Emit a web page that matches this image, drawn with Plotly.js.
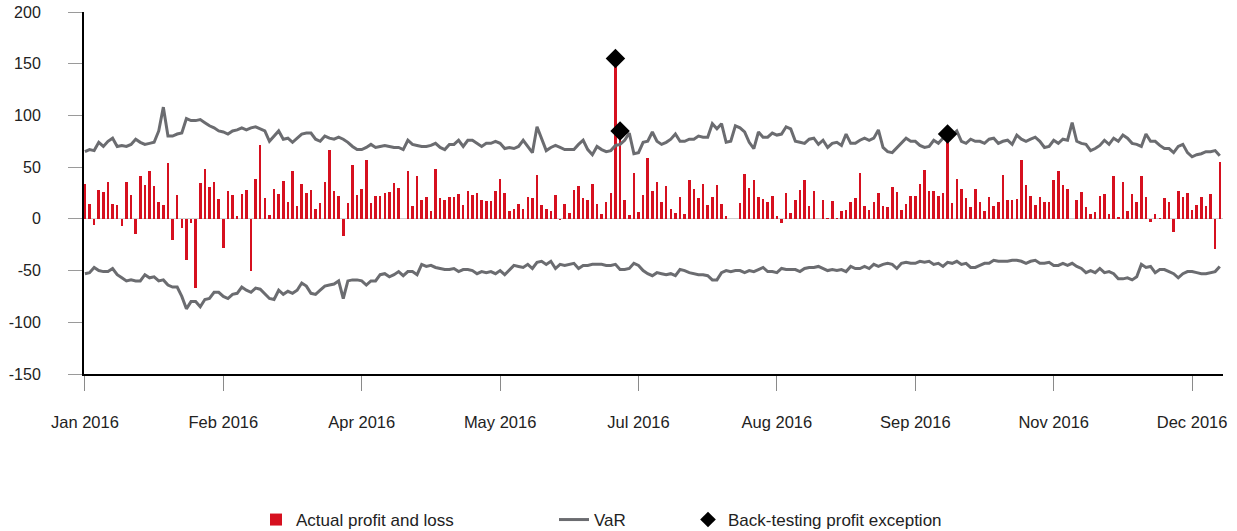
<!DOCTYPE html>
<html>
<head>
<meta charset="utf-8">
<script src="https://cdn.plot.ly/plotly-3.0.1.min.js"></script>
<style>html,body{margin:0;padding:0;background:#fff;}#chart{width:1237px;height:531px;}</style>
</head>
<body>
<div id="chart"></div>
<script>
// Daily actual profit and loss (trading days of 2016)
const pnl = [
  34, 14, -6, 28, 26, 36, 14, 13, -7, 36,
  23, -15, 41, 33, 46, 32, 16, 13, 54, -20,
  23, -9, -40, -4, -67, 35, 48, 31, 36, 19,
  -28, 27, 23, 3, 24, 28, -50, 39, 71, 20,
  4, 29, 24, 37, 16, 46, 12, 34, 25, 28,
  10, 15, 36, 67, 27, 22, -17, 15, 52, 23,
  29, 57, 15, 22, 22, 25, 26, 35, 30, 0,
  46, 12, 41, 18, 21, 8, 48, 20, 18, 21,
  21, 24, 13, 27, 23, 25, 18, 17, 17, 27,
  39, 25, 8, 10, 14, 10, 21, 20, 42, 13,
  10, 8, 23, -1, 14, 6, 28, 32, 20, 18,
  34, 14, 5, 16, 25, 155, 85, 18, 4, 44,
  7, 23, 59, 27, 36, 16, 32, 10, 6, 21,
  5, 38, 29, 20, 34, 13, 21, 33, 14, 3,
  0, 0, 15, 43, 30, 38, 21, 19, 16, 22,
  3, -4, 25, 6, 18, 28, 38, 12, 27, 0,
  18, 1, 17, 1, 8, 9, 16, 20, 44, 12,
  9, 16, 25, 12, 11, 31, 26, 9, 14, 22,
  22, 34, 47, 27, 27, 22, 25, 82, 15, 39,
  29, 20, 11, 29, 16, 8, 21, 12, 16, 42,
  18, 18, 19, 57, 33, 22, 13, 21, 16, 16,
  38, 46, 33, 29, 0, 18, 26, 11, 5, 7,
  22, 24, 5, 41, 2, 36, 8, 24, 16, 41,
  21, -3, 5, 1, 20, 16, -13, 27, 21, 25,
  9, 13, 21, 12, 24, -29, 55
];

// VaR upper band
const varUpper = [
  65, 67, 66, 74, 70, 75, 78, 70, 71, 70,
  72, 77, 74, 72, 73, 74, 85, 108, 80, 80,
  82, 83, 97, 95, 95, 96, 93, 90, 88, 85,
  84, 82, 85, 86, 88, 86, 88, 89, 87, 85,
  75, 80, 85, 77, 78, 74, 78, 82, 83, 83,
  77, 75, 80, 78, 77, 79, 77, 74, 70, 67,
  67, 69, 72, 69, 70, 71, 70, 69, 69, 67,
  76, 72, 71, 70, 70, 71, 73, 69, 67, 72,
  72, 76, 70, 76, 76, 73, 70, 73, 73, 75,
  73, 68, 69, 68, 70, 76, 70, 64, 89, 78,
  66, 69, 71, 69, 67, 67, 67, 72, 76, 67,
  62, 70, 67, 65, 66, 71, 72, 76, 83, 63,
  64, 74, 75, 84, 75, 72, 74, 77, 82, 75,
  75, 77, 77, 80, 79, 79, 92, 87, 92, 74,
  75, 90, 88, 84, 74, 68, 84, 79, 79, 83,
  81, 82, 89, 87, 75, 74, 73, 77, 78, 72,
  76, 69, 73, 74, 71, 82, 73, 73, 76, 78,
  76, 78, 86, 69, 65, 64, 69, 73, 78, 75,
  75, 71, 69, 70, 76, 73, 78, 78, 81, 85,
  75, 73, 77, 75, 75, 73, 77, 78, 73, 75,
  76, 72, 81, 77, 75, 77, 79, 75, 69, 70,
  76, 73, 77, 76, 93, 75, 73, 72, 66, 68,
  71, 76, 72, 78, 75, 81, 78, 73, 72, 70,
  82, 75, 75, 71, 68, 68, 64, 70, 72, 64,
  60, 62, 63, 65, 65, 66, 61
];

// VaR lower band
const varLower = [
  -53, -52, -47, -50, -51, -51, -48, -54, -57, -60,
  -59, -60, -60, -54, -57, -56, -60, -59, -64, -66,
  -66, -75, -87, -80, -80, -85, -78, -77, -71, -71,
  -75, -77, -73, -72, -66, -69, -71, -67, -68, -73,
  -77, -78, -69, -73, -70, -72, -69, -62, -65, -72,
  -73, -69, -65, -64, -63, -60, -77, -60, -59, -59,
  -60, -64, -60, -60, -54, -53, -56, -54, -51, -55,
  -51, -51, -54, -44, -46, -45, -47, -48, -49, -49,
  -48, -51, -49, -49, -50, -53, -51, -52, -51, -53,
  -50, -54, -49, -45, -46, -47, -44, -48, -42, -41,
  -44, -41, -48, -44, -45, -44, -43, -48, -45, -45,
  -44, -44, -44, -45, -45, -44, -49, -49, -48, -43,
  -45, -50, -53, -55, -52, -53, -54, -53, -55, -49,
  -50, -52, -53, -54, -54, -55, -59, -59, -52, -50,
  -51, -50, -50, -52, -50, -51, -49, -47, -51, -51,
  -52, -48, -49, -49, -49, -51, -48, -47, -47, -46,
  -48, -50, -49, -50, -49, -51, -46, -48, -48, -46,
  -48, -44, -46, -44, -43, -44, -48, -43, -42, -43,
  -43, -41, -42, -41, -44, -43, -46, -42, -43, -41,
  -44, -43, -47, -47, -45, -43, -43, -40, -41, -41,
  -41, -40, -40, -41, -43, -41, -40, -43, -43, -42,
  -45, -45, -43, -45, -43, -46, -48, -52, -50, -52,
  -48, -52, -51, -53, -58, -58, -57, -59, -56, -44,
  -47, -46, -52, -49, -49, -51, -53, -57, -53, -51,
  -51, -52, -53, -53, -52, -51, -46
];

// Days with back-testing profit exceptions (trading-day index)
const exceptionDays = [115, 116, 187];

// X tick positions (trading-day index) and labels
const tickDays = [0, 30, 60, 90, 120, 150, 180, 210, 240];
const tickLabels = ['Jan 2016', 'Feb 2016', 'Apr 2016', 'May 2016', 'Jul 2016', 'Aug 2016', 'Sep 2016', 'Nov 2016', 'Dec 2016'];
const yTicks = [-150, -100, -50, 0, 50, 100, 150, 200];
const yTickLabels = ['-150', '-100', '-50', '0', '50', '100', '150', '200'];

const days = pnl.map((_, i) => i);
const FONT = 'Liberation Sans, Arial, sans-serif';
const TXT = '#222222';
const RED = '#d6101f';
const GREY = '#6b6c70';

const traces = [
  {
    type: 'bar', x: days, y: pnl, name: 'Actual profit and loss',
    marker: {color: RED, line: {width: 0}}, width: 0.55, legend: 'legend'
  },
  {
    type: 'scatter', mode: 'lines', x: days, y: varUpper, name: 'VaR',
    line: {color: GREY, width: 3}, legend: 'legend2'
  },
  {
    type: 'scatter', mode: 'lines', x: days, y: varLower, name: 'VaR',
    line: {color: GREY, width: 3}, showlegend: false, legend: 'legend2'
  },
  {
    type: 'scatter', mode: 'markers', x: exceptionDays, y: exceptionDays.map(i => pnl[i]),
    name: 'Back-testing profit exception',
    marker: {symbol: 'diamond', size: 15, color: '#000000'}, legend: 'legend3'
  }
];

function leg(px) {
  return {
    x: px / 1237, xref: 'container', xanchor: 'left',
    y: 1 - 520 / 531, yref: 'container', yanchor: 'middle',
    orientation: 'h', bgcolor: 'rgba(0,0,0,0)', borderwidth: 0,
    font: {family: FONT, size: 17, color: TXT}
  };
}

const layout = {
  width: 1237, height: 531,
  margin: {l: 84, r: 14, t: 12, b: 157},
  paper_bgcolor: '#ffffff', plot_bgcolor: '#ffffff',
  font: {family: FONT, size: 16, color: TXT},
  bargap: 0,
  xaxis: {
    range: [-0.2, 246.7], showgrid: false, zeroline: false,
    showline: true, linecolor: '#000000', linewidth: 2,
    ticks: 'outside', ticklen: 15, tickwidth: 1, tickcolor: '#8a8a8a',
    tickmode: 'array', tickvals: tickDays, ticktext: tickLabels,
    ticklabelstandoff: 17,
    tickfont: {family: FONT, size: 16.5, color: TXT}
  },
  yaxis: {
    range: [-150, 200], showgrid: false,
    zeroline: true, zerolinecolor: '#cfcfcf', zerolinewidth: 1,
    showline: true, linecolor: '#000000', linewidth: 2,
    ticks: 'outside', ticklen: 14, tickwidth: 1, tickcolor: '#9a9a9a',
    tickmode: 'array', tickvals: yTicks, ticktext: yTickLabels,
    ticklabelstandoff: 24,
    tickfont: {family: FONT, size: 16, color: TXT}
  },
  showlegend: true,
  legend: Object.assign(leg(256), {itemsizing: 'trace'}),
  legend2: leg(554),
  legend3: Object.assign(leg(688), {itemsizing: 'constant'})
};

Plotly.newPlot('chart', traces, layout, {staticPlot: true, displayModeBar: false});
</script>
</body>
</html>
